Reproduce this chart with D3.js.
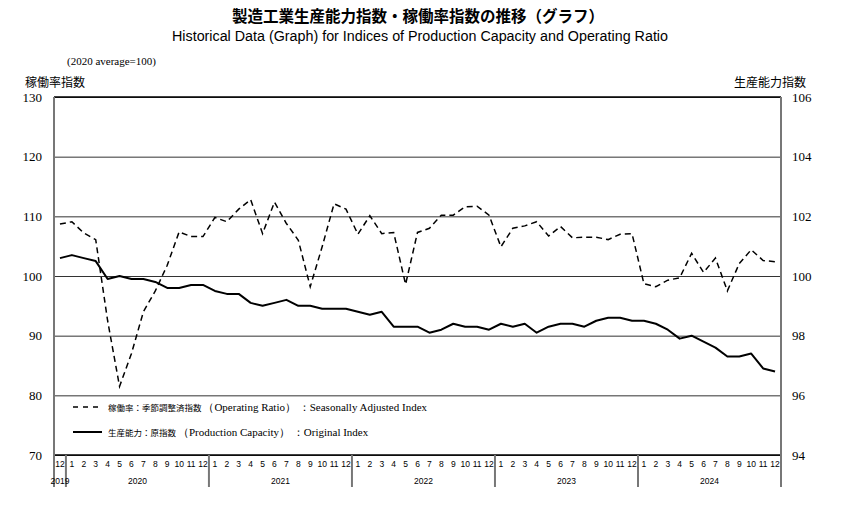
<!DOCTYPE html>
<html>
<head>
<meta charset="utf-8">
<script src="https://cdn.jsdelivr.net/npm/d3@7"></script>
<style>
  body { margin: 0; background: #fff; }
</style>
</head>
<body>
<div id="chart"></div>
<script>
// categories: Dec 2019 .. Dec 2024
var months = ["2019-12"].concat(d3.range(2020, 2025).flatMap(y => d3.range(1, 13).map(m => y + "-" + m)));
var yearLabels = ["2019", "2020", "2021", "2022", "2023", "2024"];

// 稼働率指数 (seasonally adjusted), left axis
var operatingRatio = [
  108.7,
  109.1, 107.2, 106.1, 92.5, 81.5, 87.0, 94.0, 97.5, 101.8, 107.4, 106.6, 106.6,
  109.8, 109.1, 111.2, 112.8, 107.1, 112.4, 108.8, 106.0, 98.2, 104.9, 112.1, 111.2,
  107.0, 110.1, 107.1, 107.3, 98.6, 107.3, 108.0, 110.2, 110.2, 111.6, 111.7, 110.2,
  104.9, 108.0, 108.4, 109.1, 106.7, 108.3, 106.4, 106.5, 106.5, 106.1, 107.0, 107.1,
  98.7, 98.2, 99.3, 99.7, 103.8, 100.6, 103.0, 97.5, 102.1, 104.4, 102.6, 102.4
];

// 生産能力指数 (original index), right axis
var productionCapacity = [
  100.6,
  100.7, 100.6, 100.5, 99.9, 100.0, 99.9, 99.9, 99.8, 99.6, 99.6, 99.7, 99.7,
  99.5, 99.4, 99.4, 99.1, 99.0, 99.1, 99.2, 99.0, 99.0, 98.9, 98.9, 98.9,
  98.8, 98.7, 98.8, 98.3, 98.3, 98.3, 98.1, 98.2, 98.4, 98.3, 98.3, 98.2,
  98.4, 98.3, 98.4, 98.1, 98.3, 98.4, 98.4, 98.3, 98.5, 98.6, 98.6, 98.5,
  98.5, 98.4, 98.2, 97.9, 98.0, 97.8, 97.6, 97.3, 97.3, 97.4, 96.9, 96.8
];

var leftTicks = [70, 80, 90, 100, 110, 120, 130];
var rightTicks = [94, 96, 98, 100, 102, 104, 106];

var W = 842, H = 514;
var margin = { top: 97, right: 61, bottom: 59, left: 54 };
var width = W - margin.left - margin.right;
var height = H - margin.top - margin.bottom;

var serif = "'Liberation Serif', 'Times New Roman', serif";
var sans = "'Liberation Sans', Arial, sans-serif";
var jp = "'Noto Sans CJK JP', sans-serif";

var root = d3.select("#chart").append("svg")
  .attr("width", W)
  .attr("height", H);

// titles
root.append("text")
  .attr("x", 418).attr("y", 22)
  .attr("text-anchor", "middle")
  .attr("font-family", jp).attr("font-weight", "bold").attr("font-size", 16)
  .attr("textLength", 372).attr("lengthAdjust", "spacingAndGlyphs")
  .text("製造工業生産能力指数・稼働率指数の推移（グラフ）");

root.append("text")
  .attr("x", 420).attr("y", 41)
  .attr("text-anchor", "middle")
  .attr("font-family", sans).attr("font-size", 14)
  .attr("textLength", 496).attr("lengthAdjust", "spacingAndGlyphs")
  .text("Historical Data (Graph) for Indices of Production Capacity and Operating Ratio");

root.append("text")
  .attr("x", 67).attr("y", 65)
  .attr("font-family", serif).attr("font-size", 11)
  .text("(2020 average=100)");

root.append("text")
  .attr("x", 25).attr("y", 87)
  .attr("font-family", jp).attr("font-size", 12)
  .text("稼働率指数");

root.append("text")
  .attr("x", 806).attr("y", 87)
  .attr("text-anchor", "end")
  .attr("font-family", jp).attr("font-size", 12)
  .text("生産能力指数");

var svg = root.append("g")
  .attr("transform", `translate(${margin.left}, ${margin.top})`);

// scales
var x = d3.scaleBand()
  .domain(d3.range(months.length))
  .range([0, width])
  .padding(0);
var cx = i => x(i) + x.bandwidth() / 2;

var yL = d3.scaleLinear().domain([70, 130]).range([height, 0]);
var yR = d3.scaleLinear().domain([94, 106]).range([height, 0]);

// gridlines
var grid = svg.append("g")
  .call(d3.axisLeft(yL).tickValues(leftTicks).tickSize(-width).tickFormat(""));
grid.select(".domain").remove();
grid.selectAll("line").attr("stroke", "#333").attr("stroke-width", 1);

// left axis labels
var ax = svg.append("g")
  .call(d3.axisLeft(yL).tickValues(leftTicks).tickSize(0).tickPadding(12));
ax.select(".domain").remove();
ax.selectAll("text").attr("font-family", serif).attr("font-size", 13).attr("fill", "#000");

// right axis labels
var axR = svg.append("g")
  .attr("transform", `translate(${width}, 0)`)
  .call(d3.axisRight(yR).tickValues(rightTicks).tickSize(0).tickPadding(11));
axR.select(".domain").remove();
axR.selectAll("text").attr("font-family", serif).attr("font-size", 13).attr("fill", "#000");

// frame
svg.append("line").attr("x1", 0).attr("x2", width).attr("y1", 0).attr("y2", 0)
  .attr("stroke", "#000").attr("stroke-width", 1.5);
svg.append("line").attr("x1", 0).attr("x2", width).attr("y1", height).attr("y2", height)
  .attr("stroke", "#000").attr("stroke-width", 1.5);
svg.append("line").attr("x1", 0).attr("x2", 0).attr("y1", 0).attr("y2", height)
  .attr("stroke", "#777").attr("stroke-width", 2);
svg.append("line").attr("x1", width).attr("x2", width).attr("y1", 0).attr("y2", height)
  .attr("stroke", "#777").attr("stroke-width", 2);

// x axis: month numbers
var xAxis = svg.append("g")
  .attr("transform", `translate(0, ${height})`)
  .call(d3.axisBottom(x).tickSize(0).tickPadding(6).tickFormat(i => months[i].split("-")[1]));
xAxis.select(".domain").remove();
xAxis.selectAll("text").attr("font-family", sans).attr("font-size", 8.5).attr("fill", "#000");

// year groups
var yearGroups = yearLabels.map(yr => {
  var idx = d3.range(months.length).filter(i => months[i].split("-")[0] === yr);
  return { year: yr, first: d3.min(idx), last: d3.max(idx) };
});

svg.append("g").selectAll("line")
  .data(yearGroups)
  .enter().append("line")
  .attr("x1", d => x(d.first)).attr("x2", d => x(d.first))
  .attr("y1", height).attr("y2", height + 32)
  .attr("stroke", "#777").attr("stroke-width", 2);
svg.append("line")
  .attr("x1", width).attr("x2", width)
  .attr("y1", height).attr("y2", height + 32)
  .attr("stroke", "#777").attr("stroke-width", 2);

svg.append("g").selectAll("text")
  .data(yearGroups)
  .enter().append("text")
  .attr("x", d => (x(d.first) + x(d.last) + x.bandwidth()) / 2)
  .attr("y", height + 29)
  .attr("text-anchor", "middle")
  .attr("font-family", sans).attr("font-size", 8.5)
  .text(d => d.year);

// lines
var opLine = d3.line()
  .x((d, i) => cx(i))
  .y(d => yL(d));
var capLine = d3.line()
  .x((d, i) => cx(i))
  .y(d => yR(d));

svg.append("path")
  .datum(operatingRatio)
  .attr("fill", "none")
  .attr("stroke", "#000")
  .attr("stroke-width", 1.5)
  .attr("stroke-dasharray", "6,4")
  .attr("d", opLine);

svg.append("path")
  .datum(productionCapacity)
  .attr("fill", "none")
  .attr("stroke", "#000")
  .attr("stroke-width", 2)
  .attr("stroke-linejoin", "round")
  .attr("d", capLine);

// legend
var legendItems = [
  { dash: "5,5", jp: "稼働率：季節調整済指数", en: "（Operating Ratio）", tail: "：Seasonally Adjusted Index" },
  { dash: null, jp: "生産能力：原指数", en: "（Production Capacity）", tail: "：Original Index" }
];

var legend = svg.append("g")
  .attr("transform", `translate(${73 - margin.left}, ${407 - margin.top})`);

legendItems.forEach((d, i) => {
  var g = legend.append("g").attr("transform", `translate(0, ${i * 25})`);
  g.append("line")
    .attr("x1", 0).attr("x2", 29).attr("y1", 0).attr("y2", 0)
    .attr("stroke", "#000")
    .attr("stroke-width", d.dash ? 1.5 : 2)
    .attr("stroke-dasharray", d.dash);
  var t = g.append("text").attr("x", 35).attr("y", 3.5);
  t.append("tspan").attr("font-family", jp).attr("font-size", 8.5).text(d.jp + " ");
  t.append("tspan").attr("font-family", serif).attr("font-size", 11).text(d.en + "  ");
  t.append("tspan").attr("font-family", serif).attr("font-size", 11).text(d.tail);
});
</script>
</body>
</html>
